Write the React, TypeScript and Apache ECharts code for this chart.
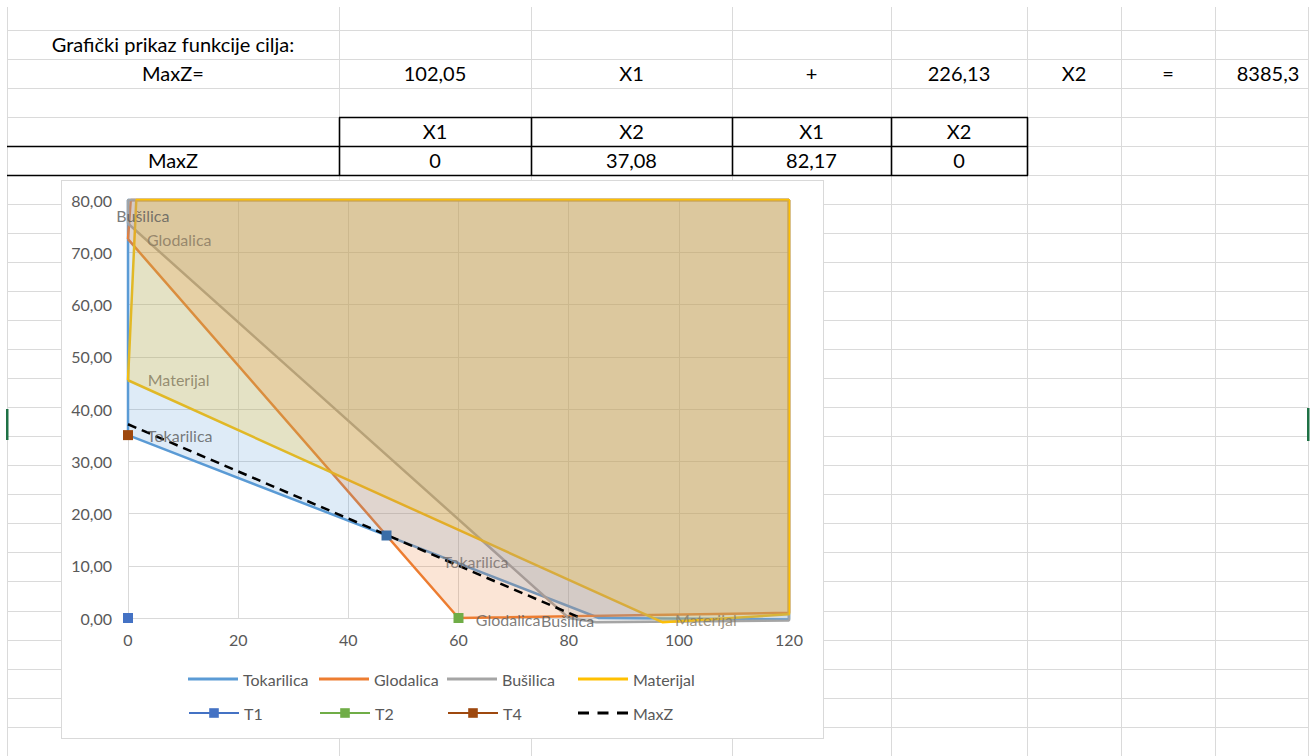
import React, { useEffect, useRef } from "react";
import * as echarts from "echarts";

// ---------- Sheet data ----------
const sheetTitle = "Grafički prikaz funkcije cilja:";
const objectiveLabel = "MaxZ=";
const objectiveCoefs = [102.05, 226.13];
const objectiveVars = ["X1", "X2"];
const objectiveValue = 8385.3;
const interceptHeaders = ["X1", "X2", "X1", "X2"];
const interceptRowLabel = "MaxZ";
const interceptValues = [0, 37.08, 82.17, 0];

// ---------- Chart data ----------
const constraintNames = ["Tokarilica", "Glodalica", "Bušilica", "Materijal"];
const tokarilicaX = [0, 85.5, 120, 120, 0, 0];
const tokarilicaY = [35, 0, -0.3, 80, 80, 35];
const glodalicaX = [0, 60, 120, 120, 0.5, 0];
const glodalicaY = [72.5, 0, 1, 80, 80, 72.5];
const busilicaX = [0, 80, 85, 120, 120, 0, 0];
const busilicaY = [75.5, 0, -0.8, -0.5, 80, 80, 75.5];
const materijalX = [0, 97, 120, 120, 1.5, 0];
const materijalY = [45.5, -0.8, 0.7, 80, 80, 45.5];

const pointT1 = [0, 0];
const pointT2 = [60, 0];
const pointT3 = [46.93, 15.79];
const pointT4 = [0, 35];

const labelTexts = ["Bušilica", "Glodalica", "Materijal", "Tokarilica", "Tokarilica", "Glodalica", "Bušilica", "Materijal"];
const labelX = [2.7, 9.3, 9.2, 9.4, 63.1, 69.0, 79.8, 104.9];
const labelY = [77.1, 72.5, 45.7, 35.0, 10.9, -0.2, -0.4, -0.2];
const labelColors = ["#595959", "#85765e", "#80765a", "#595959", "#766c69", "#5f5c5a", "#595959", "#867b66"];

const legendRow1 = ["Tokarilica", "Glodalica", "Bušilica", "Materijal"];
const legendRow2 = ["T1", "T2", "T4", "MaxZ"];

const xMin = 0, xMax = 120, xStep = 20;
const yMin = 0, yMax = 80, yStep = 10;

const fmt = (v: number) => String(v).replace(".", ",");

// ---------- Layout ----------
const colEdges = [7, 339, 531, 732, 891, 1027, 1121, 1215, 1308];
const rowTop = 29.5;
const rowH = 29.05;
const FONT = "Lato, 'Open Sans', sans-serif";

function sheetOption() {
  const els: any[] = [];
  const grid = "#dadada";
  for (const x of colEdges) {
    els.push({ type: "line", shape: { x1: x + 0.5, y1: 7, x2: x + 0.5, y2: 756 }, style: { stroke: grid, lineWidth: 1 } });
  }
  for (let k = 0; rowTop + k * rowH <= 757; k++) {
    const y = Math.round(rowTop + k * rowH) + 0.5;
    els.push({ type: "line", shape: { x1: 7, y1: y, x2: 1308, y2: y }, style: { stroke: grid, lineWidth: 1 } });
  }
  const r = (k: number) => Math.round(rowTop + k * rowH) + 0.5;
  const blk = { stroke: "#000", lineWidth: 1.6 };
  els.push({ type: "line", shape: { x1: colEdges[1], y1: r(3), x2: colEdges[5] + 1, y2: r(3) }, style: blk });
  els.push({ type: "line", shape: { x1: colEdges[0], y1: r(4), x2: colEdges[5] + 1, y2: r(4) }, style: blk });
  els.push({ type: "line", shape: { x1: colEdges[0], y1: r(5), x2: colEdges[5] + 1, y2: r(5) }, style: blk });
  for (let i = 1; i <= 5; i++) {
    els.push({ type: "line", shape: { x1: colEdges[i] + 0.5, y1: r(3), x2: colEdges[i] + 0.5, y2: r(5) }, style: blk });
  }
  els.push({ type: "rect", shape: { x: 6, y: 409, width: 2.5, height: 31 }, style: { fill: "#1e7145" } });
  els.push({ type: "rect", shape: { x: 1307, y: 408, width: 2.5, height: 33 }, style: { fill: "#1e7145" } });

  const cc = (i: number) => (colEdges[i] + colEdges[i + 1]) / 2;
  const rc = (k: number) => (rowTop + k * rowH + rowTop + (k + 1) * rowH) / 2;
  const txt = (s: string, x: number, y: number) =>
    els.push({
      type: "text",
      x,
      y,
      style: { text: s, fill: "#000", fontSize: 20, fontFamily: FONT, align: "center", verticalAlign: "middle" },
    });
  txt(sheetTitle, cc(0), rc(0));
  txt(objectiveLabel, cc(0), rc(1));
  txt(fmt(objectiveCoefs[0]), cc(1), rc(1));
  txt(objectiveVars[0], cc(2), rc(1));
  txt("+", cc(3), rc(1));
  txt(fmt(objectiveCoefs[1]), cc(4), rc(1));
  txt(objectiveVars[1], cc(5), rc(1));
  txt("=", cc(6), rc(1));
  txt(fmt(objectiveValue), 1268, rc(1));
  interceptHeaders.forEach((h, i) => txt(h, cc(i + 1), rc(3)));
  txt(interceptRowLabel, cc(0), rc(4));
  interceptValues.forEach((v, i) => txt(fmt(v), cc(i + 1), rc(4)));
  return { animation: false, graphic: { elements: els } };
}

const zip = (xs: number[], ys: number[]) => xs.map((x, i) => [x, ys[i]]);

function chartOption() {
  const colors = ["#5B9BD5", "#ED7D31", "#A5A5A5", "#FFC000"];
  const fills = ["rgba(91,155,213,0.2)", "rgba(237,125,49,0.2)", "rgba(165,165,165,0.2)", "rgba(255,192,0,0.2)"];
  const polys = [
    zip(tokarilicaX, tokarilicaY),
    zip(glodalicaX, glodalicaY),
    zip(busilicaX, busilicaY),
    zip(materijalX, materijalY),
  ];
  const textStyle = { color: "#595959", fontSize: 16, fontFamily: FONT };

  const series: any[] = constraintNames.map((n, i) => ({
    name: n,
    type: "line",
    data: polys[i],
    symbol: "none",
    clip: false,
    z: 2,
    lineStyle: { color: colors[i], width: 2.5 },
    itemStyle: { color: colors[i] },
  }));

  series.push({
    name: "fills",
    type: "custom",
    z: 3,
    clip: false,
    data: polys.map((_, i) => [i, 0]),
    renderItem: (params: any, api: any) => {
      const pts = polys[params.dataIndex].map((p) => api.coord(p));
      return { type: "polygon", shape: { points: pts }, style: { fill: fills[params.dataIndex] } };
    },
  });

  const pt = (name: string, p: number[], color: string) => ({
    name,
    type: "line",
    data: [p],
    symbol: "rect",
    symbolSize: 10,
    z: 4,
    lineStyle: { color, width: 2.5 },
    itemStyle: { color },
  });
  series.push(pt("T1", pointT1, "#4472C4"));
  series.push(pt("T2", pointT2, "#70AD47"));
  series.push(pt("T3", pointT3, "#3a6ea8"));
  series.push(pt("T4", pointT4, "#9E480E"));

  series.push({
    name: "MaxZ",
    type: "line",
    data: [
      [interceptValues[0], interceptValues[1]],
      [interceptValues[2], interceptValues[3]],
    ],
    symbol: "none",
    z: 4,
    lineStyle: { color: "#000", width: 2.5, type: [9, 6] },
    itemStyle: { color: "#000" },
  });

  series.push({
    name: "labels",
    type: "scatter",
    z: 5,
    clip: false,
    symbolSize: 1,
    itemStyle: { color: "rgba(0,0,0,0)" },
    data: labelTexts.map((t, i) => ({
      value: [labelX[i], labelY[i]],
      label: {
        show: true,
        position: "inside",
        formatter: t,
        color: labelColors[i],
        fontSize: 16,
        fontFamily: FONT,
      },
    })),
  });

  const legendLeft = [126, 257, 385, 516];
  const rowTops = [488, 522];
  const dashIcon = "path://M0,0h11v3h-11zM19.5,0h11v3h-11zM39,0h11v3h-11z";
  const legend: any[] = [];
  [legendRow1, legendRow2].forEach((row, r) => {
    row.forEach((name, c) => {
      const isMarker = r === 1 && name !== "MaxZ";
      const base: any = {
        data: [name],
        left: legendLeft[c],
        top: rowTops[r],
        padding: 0,
        itemWidth: 50,
        itemHeight: isMarker ? 12 : 3,
        selectedMode: false,
        symbolKeepAspect: false,
        textStyle: { ...textStyle, lineHeight: 20 },
      };
      if (!isMarker) base.icon = name === "MaxZ" ? dashIcon : "rect";
      legend.push(base);
    });
  });

  return {
    animation: false,
    grid: { left: 66, top: 19, width: 661, height: 418, containLabel: false },
    legend,
    xAxis: {
      type: "value",
      min: xMin,
      max: xMax,
      interval: xStep,
      axisLine: { show: true, onZero: false, lineStyle: { color: "#D9D9D9", width: 1 } },
      axisTick: { show: false },
      axisLabel: { ...textStyle, margin: 13 },
      splitLine: { show: true, lineStyle: { color: "#D9D9D9", width: 1 } },
    },
    yAxis: {
      type: "value",
      min: yMin,
      max: yMax,
      interval: yStep,
      axisLine: { show: false },
      axisTick: { show: false },
      axisLabel: { ...textStyle, margin: 16, formatter: (v: number) => v.toFixed(2).replace(".", ",") },
      splitLine: { show: true, lineStyle: { color: "#D9D9D9", width: 1 } },
    },
    series,
  };
}

export default function App() {
  const sheetRef = useRef<HTMLDivElement>(null);
  const chartRef = useRef<HTMLDivElement>(null);
  useEffect(() => {
    const s = echarts.init(sheetRef.current!, undefined, { renderer: "svg" });
    s.setOption(sheetOption());
    const c = echarts.init(chartRef.current!, undefined, { renderer: "svg" });
    c.setOption(chartOption());
    return () => {
      s.dispose();
      c.dispose();
    };
  }, []);
  return (
    <div style={{ position: "absolute", left: 0, top: 0, width: 1316, height: 756, background: "#fff", overflow: "hidden" }}>
      <div ref={sheetRef} style={{ position: "absolute", left: 0, top: 0, width: 1316, height: 756 }} />
      <div
        style={{
          position: "absolute",
          left: 61,
          top: 180,
          width: 763,
          height: 559,
          boxSizing: "border-box",
          border: "1px solid #D9D9D9",
          background: "#fff",
        }}
      >
        <div ref={chartRef} style={{ width: 761, height: 557 }} />
      </div>
    </div>
  );
}
